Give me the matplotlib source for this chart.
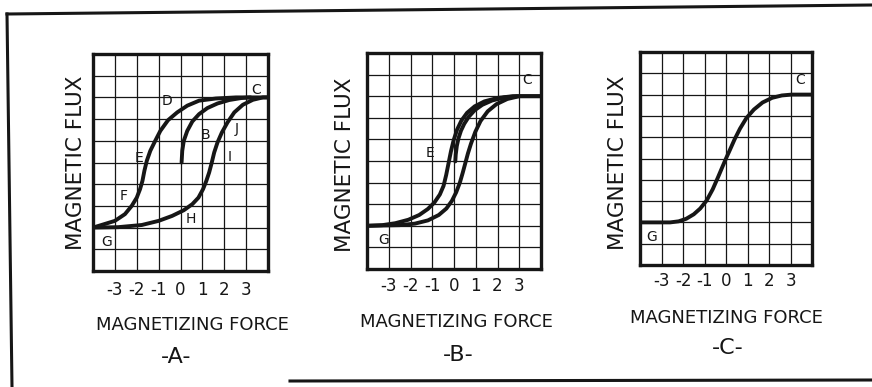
import numpy as np
import matplotlib
matplotlib.use("Agg")
import matplotlib.pyplot as plt
from matplotlib.lines import Line2D

plt.rcParams['font.family'] = ['DejaVu Sans']

INK = '#161616'

# ---- data -------------------------------------------------------------
tick_values = [-4, -3, -2, -1, 0, 1, 2, 3, 4]
tick_labels = ['', '-3', '-2', '-1', '0', '1', '2', '3', '']

# Panel A: full hysteresis loop plus initial magnetisation curve
a_down_x = [-4.0, -3.0, -2.54, -2.23, -2.0, -1.85, -1.74, -1.65, -1.54, -1.38,
            -1.18, -0.92, -0.57, -0.15, 0.31, 0.85, 1.62, 2.54, 4.0]
a_down_y = [2.0, 2.31, 2.62, 3.0, 3.38, 3.77, 4.15, 4.62, 5.08, 5.54,
            5.95, 6.46, 6.95, 7.31, 7.62, 7.85, 7.95, 8.0, 8.0]
a_up_x = [-4.0, -2.85, -1.77, -1.0, -0.38, 0.15, 0.54, 0.82, 1.03, 1.18,
          1.31, 1.43, 1.54, 1.69, 1.89, 2.15, 2.46, 2.85, 3.31, 3.77, 4.0]
a_up_y = [2.0, 2.02, 2.12, 2.31, 2.54, 2.8, 3.08, 3.38, 3.77, 4.15,
          4.54, 5.0, 5.46, 5.92, 6.38, 6.85, 7.31, 7.66, 7.89, 8.0, 8.0]
a_init_x = [0.05, 0.08, 0.15, 0.31, 0.54, 0.85, 1.23, 1.69, 2.23, 2.77, 3.2]
a_init_y = [5.0, 5.54, 6.0, 6.46, 6.89, 7.23, 7.51, 7.72, 7.88, 7.97, 8.0]

# Panel B: narrow loop
b_down_x = [-4.0, -3.3, -2.7, -2.1, -1.6, -1.2, -0.9, -0.65, -0.48, -0.36,
            -0.25, -0.14, -0.02, 0.14, 0.34, 0.6, 0.95, 1.4, 2.0, 2.7, 4.0]
b_down_y = [2.0, 2.03, 2.12, 2.28, 2.5, 2.78, 3.08, 3.45, 3.85, 4.35,
            4.9, 5.45, 5.95, 6.45, 6.87, 7.23, 7.53, 7.76, 7.92, 8.0, 8.0]
b_up_x = [-4.0, -2.5, -1.8, -1.2, -0.7, -0.35, -0.1, 0.1, 0.27, 0.4,
          0.52, 0.64, 0.78, 0.98, 1.22, 1.55, 1.95, 2.45, 3.0, 4.0]
b_up_y = [2.0, 2.03, 2.1, 2.25, 2.5, 2.8, 3.15, 3.55, 4.0, 4.45,
          4.9, 5.35, 5.8, 6.35, 6.85, 7.3, 7.63, 7.87, 8.0, 8.0]
b_init_x = [0.06, 0.08, 0.13, 0.21, 0.32, 0.47, 0.68, 0.95, 1.3, 1.75, 2.3, 2.9]
b_init_y = [4.98, 5.3, 5.7, 6.06, 6.4, 6.72, 7.05, 7.35, 7.6, 7.8, 7.94, 8.0]

# Panel C: no hysteresis, single curve
c_x = [-4.0, -2.6, -2.2, -1.85, -1.5, -1.2, -0.9, -0.62, -0.38, -0.17, 0.0,
       0.18, 0.4, 0.65, 0.95, 1.3, 1.7, 2.15, 2.6, 3.05, 4.0]
c_y = [2.0, 2.0, 2.05, 2.17, 2.38, 2.65, 3.03, 3.55, 4.1, 4.6, 5.0,
       5.4, 5.9, 6.4, 6.9, 7.3, 7.63, 7.85, 7.96, 8.0, 8.0]

# point labels: (text, x, y)
a_points = [('C', 3.46, 8.36), ('D', -0.62, 7.85), ('B', 1.12, 6.28),
            ('J', 2.57, 6.54), ('E', -1.92, 5.23), ('I', 2.23, 5.26),
            ('F', -2.62, 3.46), ('H', 0.46, 2.38), ('G', -3.4, 1.35)]
b_points = [('C', 3.36, 8.77), ('E', -1.09, 5.37), ('G', -3.23, 1.36)]
c_points = [('C', 3.45, 8.67), ('G', -3.46, 1.33)]

panel_titles = ['-A-', '-B-', '-C-']
xlabel_text = 'MAGNETIZING FORCE'
ylabel_text = 'MAGNETIC FLUX'

# ---- layout (pixels) --------------------------------------------------
W, H = 872, 387
fig = plt.figure(figsize=(W / 100, H / 100), dpi=100)
fig.patch.set_facecolor('white')


def px_rect(left, top, right, bottom):
    return [left / W, 1 - bottom / H, (right - left) / W, (bottom - top) / H]


panels = [
    dict(rect=px_rect(93, 54, 268, 271), curves=[(a_down_x, a_down_y), (a_up_x, a_up_y), (a_init_x, a_init_y)],
         points=a_points, title=panel_titles[0], xl=(192, 325), yl=(76, 163), tl=(176, 357), pad=7),
    dict(rect=px_rect(367, 53, 541, 269), curves=[(b_down_x, b_down_y), (b_up_x, b_up_y), (b_init_x, b_init_y)],
         points=b_points, title=panel_titles[1], xl=(456, 322), yl=(345, 165), tl=(458, 355), pad=6),
    dict(rect=px_rect(640, 52, 812, 265), curves=[(c_x, c_y)],
         points=c_points, title=panel_titles[2], xl=(726, 318), yl=(618, 163), tl=(728, 348), pad=5),
]

for p in panels:
    ax = fig.add_axes(p['rect'])
    ax.set_xlim(-4, 4)
    ax.set_ylim(0, 10)
    ax.set_xticks(tick_values)
    ax.set_xticklabels(tick_labels, fontsize=12, color=INK)
    ax.set_yticks(np.arange(0, 11))
    ax.set_yticklabels([])
    ax.tick_params(length=0, pad=p['pad'])
    ax.grid(True, color=INK, linewidth=0.9)
    ax.set_axisbelow(True)
    for s in ax.spines.values():
        s.set_linewidth(2.4)
        s.set_color(INK)
    for cx, cy in p['curves']:
        ax.plot(cx, cy, color=INK, linewidth=2.8, solid_capstyle='round',
                solid_joinstyle='round', zorder=3)
    for t, x, y in p['points']:
        ax.text(x, y, t, fontsize=10, color=INK, ha='center', va='center', zorder=4)

    fig.text(p['xl'][0] / W, 1 - p['xl'][1] / H, xlabel_text, fontsize=13,
             color=INK, ha='center', va='center')
    fig.text(p['yl'][0] / W, 1 - p['yl'][1] / H, ylabel_text, fontsize=15.5,
             color=INK, ha='center', va='center', rotation=90)
    fig.text(p['tl'][0] / W, 1 - p['tl'][1] / H, p['title'], fontsize=16,
             color=INK, ha='center', va='center')

# outer frame of the plate
frame = [((7, 14), (872, 5), 2.2), ((7, 14), (12, 387), 2.2), ((290, 381), (872, 380), 2.2)]
for (x0, y0), (x1, y1), lw in frame:
    fig.add_artist(Line2D([x0 / W, x1 / W], [1 - y0 / H, 1 - y1 / H],
                          color=INK, linewidth=lw, transform=fig.transFigure))

fig.savefig('out.png', dpi=100, facecolor='white')
